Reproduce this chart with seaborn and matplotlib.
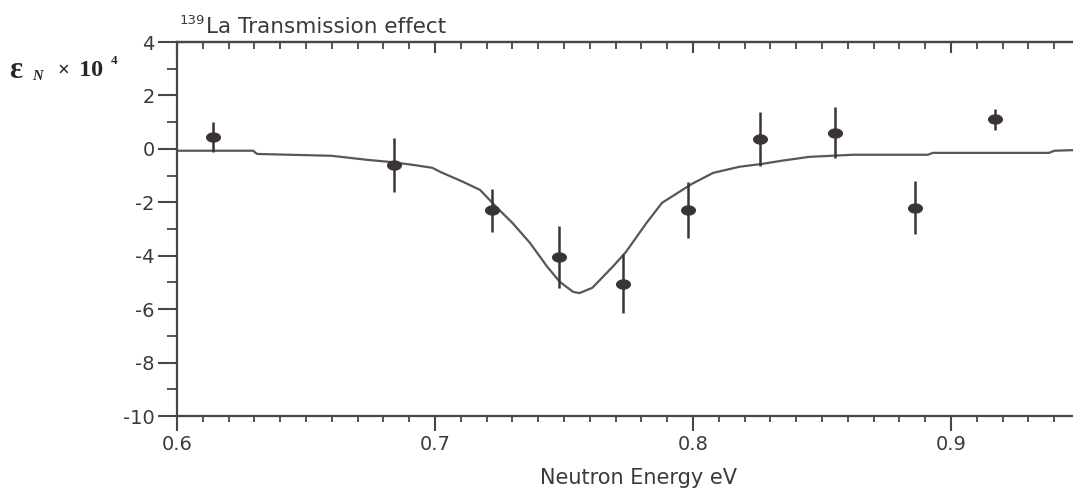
import numpy as np
import pandas as pd
import matplotlib.pyplot as plt
import matplotlib.path as mpath
from matplotlib.ticker import MultipleLocator
import seaborn as sns

# measured points
energy = [0.614, 0.684, 0.722, 0.748, 0.773, 0.798, 0.826, 0.855, 0.886, 0.917]
eps = [0.45, -0.6, -2.3, -4.05, -5.05, -2.3, 0.37, 0.6, -2.2, 1.1]
err = [0.55, 1.0, 0.8, 1.15, 1.1, 1.05, 1.0, 0.95, 1.0, 0.4]

# fitted curve
curve_x = [0.600, 0.6295, 0.631, 0.660, 0.6736, 0.6826, 0.6915, 0.699, 0.702, 0.711,
           0.7175, 0.724, 0.730, 0.7368, 0.7434, 0.7484, 0.7535, 0.756, 0.761, 0.769,
           0.774, 0.782, 0.788, 0.7996, 0.8078, 0.818, 0.827, 0.834, 0.845, 0.862,
           0.891, 0.893, 0.938, 0.940, 0.950]
curve_y = [-0.07, -0.07, -0.19, -0.26, -0.41, -0.49, -0.6, -0.71, -0.86, -1.24,
           -1.54, -2.2, -2.77, -3.52, -4.4, -4.98, -5.35, -5.4, -5.2, -4.4,
           -3.86, -2.77, -2.02, -1.31, -0.9, -0.67, -0.56, -0.45, -0.3, -0.22,
           -0.22, -0.15, -0.15, -0.07, -0.04]

pts = pd.DataFrame({'energy': energy, 'eps': eps})
fit = pd.DataFrame({'energy': curve_x, 'eps': curve_y})

sns.set_style('ticks')
plt.rcParams['font.family'] = ['DejaVu Sans']
plt.rcParams['axes.unicode_minus'] = False
gray = '#4a4548'
txt = '#3a3a3a'

fig = plt.figure(figsize=(10.73, 4.91), dpi=100)
ax = fig.add_axes([177 / 1073, 75 / 491, 903 / 1073, 374 / 491])

sns.lineplot(data=fit, x='energy', y='eps', ax=ax, color='#5a5557', lw=1.6, sort=False)
ax.errorbar(energy, eps, yerr=err, fmt='none', ecolor='#3a3436', elinewidth=1.8, capsize=0)

t = np.linspace(0, 2 * np.pi, 40)
ellipse = mpath.Path(np.column_stack([1.5 * np.cos(t), np.sin(t)]))
sns.scatterplot(data=pts, x='energy', y='eps', ax=ax, marker=ellipse, s=100,
                color='#3a3436', edgecolor='#3a3436', zorder=5)

ax.set_xlim(0.6, 0.95)
ax.set_ylim(-10, 4)
ax.xaxis.set_major_locator(MultipleLocator(0.1))
ax.xaxis.set_minor_locator(MultipleLocator(0.01))
ax.yaxis.set_major_locator(MultipleLocator(2))
ax.yaxis.set_minor_locator(MultipleLocator(1))
ax.set_xticks([0.6, 0.7, 0.8, 0.9])
ax.set_xticklabels(['0.6', '0.7', '0.8', '0.9'])

for s in ax.spines.values():
    s.set_color(gray)
    s.set_linewidth(1.6)
ax.spines['right'].set_visible(False)

ax.tick_params(axis='x', which='major', direction='out', length=11, width=1.5, color=gray,
               labelsize=14, labelcolor=txt, pad=3)
ax.tick_params(axis='x', which='minor', direction='out', length=4, width=1.3, color=gray)
ax.tick_params(axis='y', which='major', direction='out', length=14, width=1.5, color=gray,
               labelsize=14, labelcolor=txt, pad=2)
ax.tick_params(axis='y', which='minor', direction='out', length=7, width=1.3, color=gray)

top = ax.secondary_xaxis('top')
top.xaxis.set_major_locator(MultipleLocator(0.1))
top.xaxis.set_minor_locator(MultipleLocator(0.01))
top.tick_params(which='major', direction='in', length=8, width=1.5, color=gray, labeltop=False)
top.tick_params(which='minor', direction='in', length=5, width=1.3, color=gray)
top.spines['top'].set_color(gray)
top.spines['top'].set_linewidth(1.6)

ax.set_xlabel('')
ax.set_ylabel('')
fig.text(638 / 1073, 1 - 478 / 491, 'Neutron Energy eV', fontsize=15, color=txt,
         ha='center', va='center')

# title with superscript mass number
fig.text(180 / 1073, 1 - 21 / 491, '139', fontsize=9.5, color=txt, va='center')
fig.text(206 / 1073, 1 - 27 / 491, 'La Transmission effect', fontsize=15.5,
         color=txt, va='center')

# y label: eps_N x 10^4
serif = ['Liberation Serif', 'DejaVu Serif']
fig.text(9 / 1073, 1 - 71 / 491, 'ε', fontsize=22, family=serif, weight='bold', va='center')
fig.text(32 / 1073, 1 - 76 / 491, 'N', fontsize=10.5, family=serif, weight='bold',
         style='italic', va='center')
fig.text(57 / 1073, 1 - 71 / 491, '×', fontsize=15, family=serif, weight='bold', va='center')
fig.text(79 / 1073, 1 - 70 / 491, '10', fontsize=17.5, family=serif, weight='bold',
         va='center')
fig.text(111 / 1073, 1 - 61 / 491, '4', fontsize=9.5, family=serif, weight='bold', va='center')

fig.savefig('out.png', dpi=100)
